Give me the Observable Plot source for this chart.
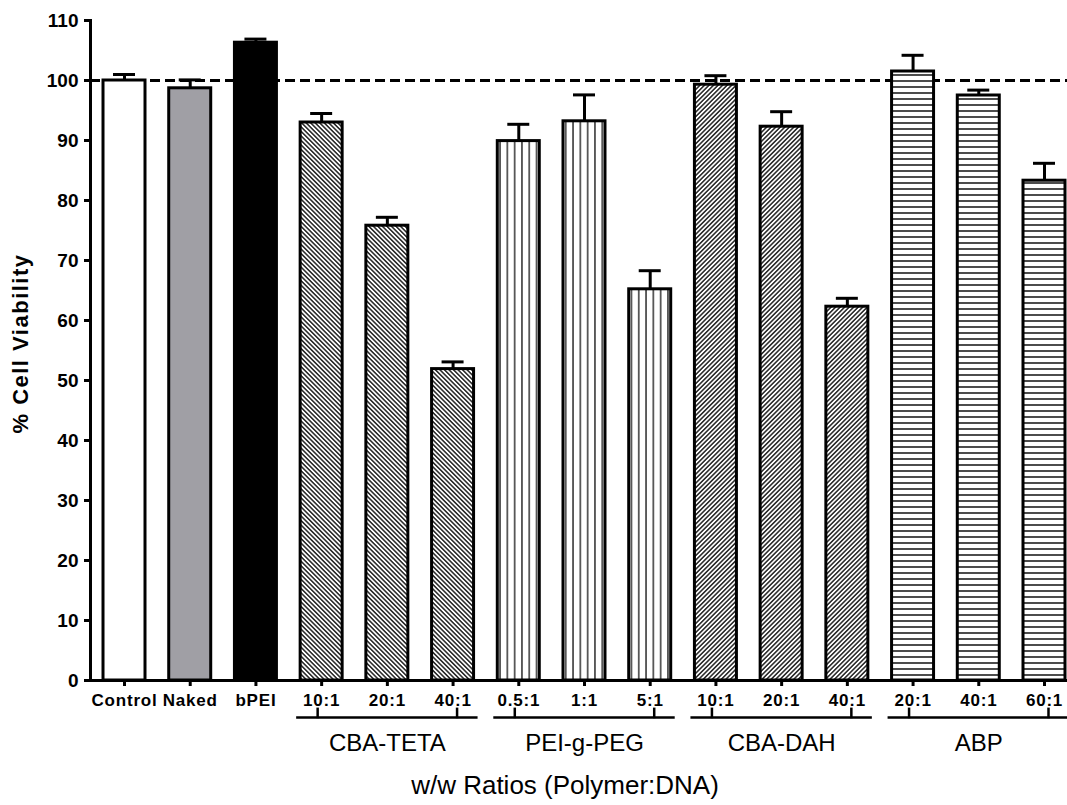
<!DOCTYPE html>
<html>
<head>
<meta charset="utf-8">
<script src="https://cdn.jsdelivr.net/npm/d3@7"></script>
<script src="https://cdn.jsdelivr.net/npm/@observablehq/plot@0.6"></script>
<style>
  html, body { margin: 0; padding: 0; background: #fff; }
  svg { font-family: "Liberation Sans", Arial, Helvetica, sans-serif; }
</style>
</head>
<body>
<script>
// Cell viability (%) per treatment, mean with upper error bar
const keys = ["Control", "Naked", "bPEI",
  "CBA-TETA 10:1", "CBA-TETA 20:1", "CBA-TETA 40:1",
  "PEI-g-PEG 0.5:1", "PEI-g-PEG 1:1", "PEI-g-PEG 5:1",
  "CBA-DAH 10:1", "CBA-DAH 20:1", "CBA-DAH 40:1",
  "ABP 20:1", "ABP 40:1", "ABP 60:1"];
const tickLabels = ["Control", "Naked", "bPEI",
  "10:1", "20:1", "40:1",
  "0.5:1", "1:1", "5:1",
  "10:1", "20:1", "40:1",
  "20:1", "40:1", "60:1"];
const groupOf = ["Control", "Naked", "bPEI",
  "CBA-TETA", "CBA-TETA", "CBA-TETA",
  "PEI-g-PEG", "PEI-g-PEG", "PEI-g-PEG",
  "CBA-DAH", "CBA-DAH", "CBA-DAH",
  "ABP", "ABP", "ABP"];
const viability = [100.0, 98.7, 106.3, 93.0, 75.8, 51.9, 89.9, 93.2, 65.2, 99.3, 92.3, 62.3, 101.5, 97.5, 83.3];
const errorUp = [1.0, 1.4, 0.6, 1.5, 1.4, 1.2, 2.8, 4.4, 3.1, 1.5, 2.5, 1.4, 2.7, 0.9, 2.9];
const polymers = ["CBA-TETA", "PEI-g-PEG", "CBA-DAH", "ABP"];
const yTicks = [0, 10, 20, 30, 40, 50, 60, 70, 80, 90, 100, 110];
const reference = [100];
const xTitle = "w/w Ratios (Polymer:DNA)";
const yTitle = "% Cell Viability";

// fill style per treatment group
const fillStyle = {
  "Control": "white",
  "Naked": "#a09fa5",
  "bPEI": "black",
  "CBA-TETA": "url(#hatch-back)",
  "PEI-g-PEG": "url(#hatch-vertical)",
  "CBA-DAH": "url(#hatch-forward)",
  "ABP": "url(#hatch-horizontal)"
};

const rows = keys.map((k, i) => ({key: k, label: tickLabels[i], group: groupOf[i], v: viability[i], e: errorUp[i]}));
const labelOf = new Map(rows.map(d => [d.key, d.label]));
const groupRows = polymers.map(g => {
  const members = rows.filter(d => d.group === g);
  return {group: g, first: members[0].key, mid: members[1].key, last: members[members.length - 1].key};
});

const xOptions = {domain: keys, range: [90, 1078], paddingInner: 0.361, paddingOuter: 0.198, round: false};
const bandwidth = Plot.scale({x: xOptions}).bandwidth;
const overhang = 4;
const font = "Liberation Sans, Arial, Helvetica, sans-serif";

const chart = Plot.plot({
  width: 1067,
  height: 805,
  marginLeft: 90,
  marginRight: 0,
  marginTop: 20,
  marginBottom: 125,
  x: xOptions,
  y: {domain: [0, 110]},
  color: {type: "identity"},
  marks: [
    Plot.ruleY(reference, {strokeWidth: 3, strokeDasharray: "10,5"}),
    Plot.barY(rows, {x: "key", y: "v", fill: d => fillStyle[d.group], stroke: "black", strokeWidth: 3}),
    Plot.ruleX(rows, {x: "key", y1: "v", y2: d => d.v + d.e, strokeWidth: 3}),
    Plot.tickY(rows, {x: "key", y: d => d.v + d.e, strokeWidth: 3, insetLeft: 10, insetRight: 10}),
    Plot.ruleY([0], {strokeWidth: 3}),
    Plot.frame({anchor: "left", strokeWidth: 3}),
    Plot.axisY({ticks: yTicks, tickSize: 6, tickPadding: 6, strokeWidth: 3, fontSize: 19, fontWeight: "bold", fontFamily: font, label: null}),
    Plot.axisX({tickSize: 6, tickPadding: 7, strokeWidth: 3, fontSize: 17, fontWeight: "bold", fontFamily: font, tickFormat: d => labelOf.get(d), label: null}),
    // group brackets under each polymer
    Plot.ruleY(groupRows, {x1: "first", x2: "last", y: -6.17, strokeWidth: 2.5, insetLeft: -overhang, insetRight: -overhang}),
    Plot.ruleX(groupRows, {x: "first", y1: -4.6, y2: -6.37, strokeWidth: 2.5, dx: -(bandwidth / 2 + overhang)}),
    Plot.ruleX(groupRows, {x: "last", y1: -4.6, y2: -6.37, strokeWidth: 2.5, dx: bandwidth / 2 + overhang}),
    Plot.text(groupRows, {x: "mid", y: -10.4, text: "group", fontSize: 24, fontFamily: font}),
    Plot.text([xTitle], {frameAnchor: "bottom", lineAnchor: "middle", dx: -14, dy: 105, fontSize: 26, fontFamily: font}),
    Plot.text([yTitle], {frameAnchor: "left", textAnchor: "middle", lineAnchor: "middle", dx: -70, dy: -7, rotate: -90, fontSize: 22, fontWeight: "bold", fontFamily: font})
  ]
});

// hatch patterns used by the polymer bars
const defs = d3.select(chart).insert("defs", ":first-child");
function hatch(id, size, angle, width) {
  const p = defs.append("pattern")
    .attr("id", id)
    .attr("patternUnits", "userSpaceOnUse")
    .attr("width", size)
    .attr("height", size)
    .attr("patternTransform", `rotate(${angle})`);
  p.append("rect").attr("width", size).attr("height", size).attr("fill", "white");
  p.append("line").attr("x1", size / 2).attr("x2", size / 2).attr("y1", 0).attr("y2", size)
    .attr("stroke", "black").attr("stroke-width", width);
}
hatch("hatch-back", 3.2, -45, 1.3);
hatch("hatch-forward", 3.2, 45, 1.3);
hatch("hatch-vertical", 7.3, 0, 1.2);
hatch("hatch-horizontal", 6, 90, 1.4);

d3.select(chart).selectAll('[aria-label="x-axis tick label"] text').style("letter-spacing", "0.8px");
d3.select(chart).selectAll('text').filter(function() { return this.textContent === yTitle; }).style("letter-spacing", "1.5px");
d3.select(chart).style("overflow", "visible");
document.body.appendChild(chart);
</script>
</body>
</html>
